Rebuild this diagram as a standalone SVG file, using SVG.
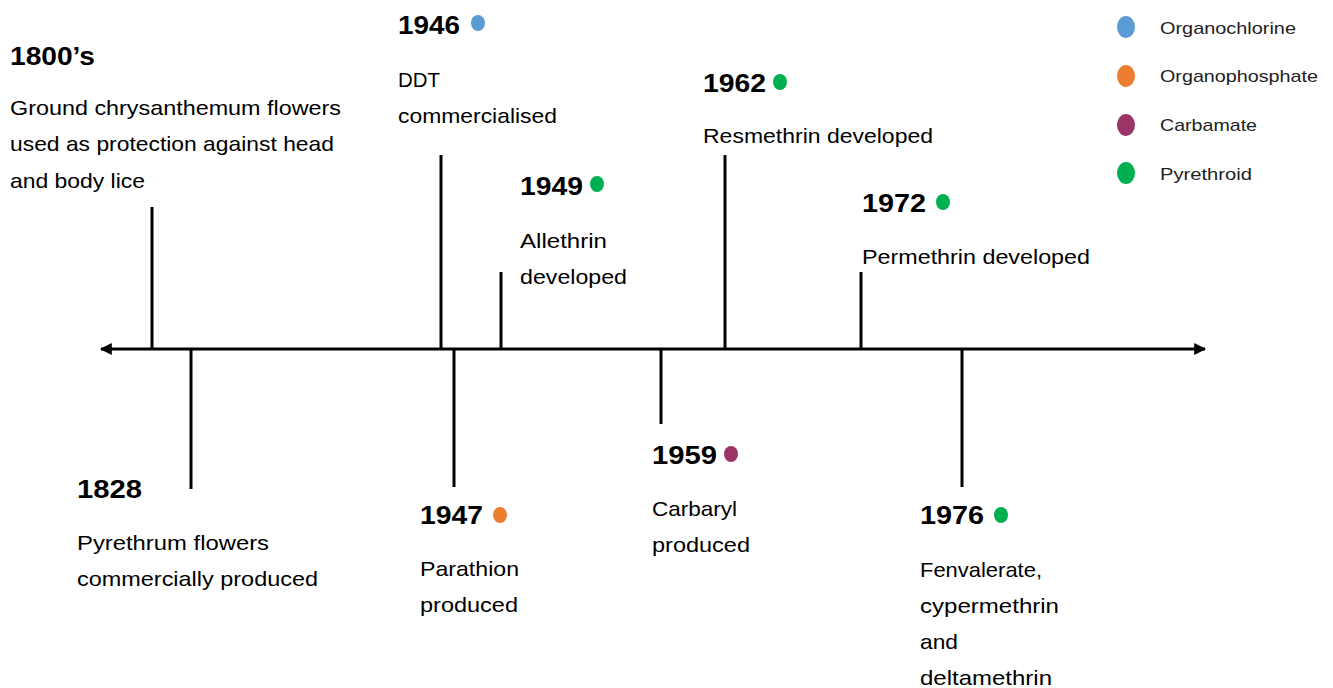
<svg xmlns="http://www.w3.org/2000/svg" width="1333" height="688" viewBox="0 0 1333 688">
<defs>
<marker id="ah" viewBox="0 0 10 10" refX="9" refY="5" markerWidth="4" markerHeight="4" orient="auto-start-reverse" markerUnits="strokeWidth">
<path d="M0,0 L10,5 L0,10 z" fill="#000"/>
</marker>
<style>
text{font-family:"Liberation Sans",Arial,sans-serif}
.yr{font-weight:bold;font-size:26px;fill:#000}
.tx{font-size:21px;fill:#000}
.lg{font-size:17px;fill:#222}
.tick{stroke:#000;stroke-width:3;fill:none}
.blue{fill:#5B9BD5}.orange{fill:#ED7D31}.purple{fill:#9B3568}.green{fill:#00B050}
</style>
</defs>
<rect width="1333" height="688" fill="#fff"/>
<g id="connectors">
<line x1="101" y1="349" x2="1205" y2="349" class="tick" marker-start="url(#ah)" marker-end="url(#ah)"/>
<line class="tick" x1="152" y1="207" x2="152" y2="349"/>
<line class="tick" x1="191" y1="349" x2="191" y2="489"/>
<line class="tick" x1="441" y1="155" x2="441" y2="349"/>
<line class="tick" x1="454" y1="349" x2="454" y2="487"/>
<line class="tick" x1="501" y1="272" x2="501" y2="349"/>
<line class="tick" x1="661" y1="349" x2="661" y2="424"/>
<line class="tick" x1="725" y1="155" x2="725" y2="349"/>
<line class="tick" x1="861" y1="272" x2="861" y2="349"/>
<line class="tick" x1="962" y1="349" x2="962" y2="487"/>
</g>
<g id="e1800">
<text class="yr" x="10" y="65" textLength="85" lengthAdjust="spacingAndGlyphs">1800’s</text>
<text class="tx" x="10" y="115" textLength="331" lengthAdjust="spacingAndGlyphs">Ground chrysanthemum flowers</text>
<text class="tx" x="10" y="151" textLength="324" lengthAdjust="spacingAndGlyphs">used as protection against head</text>
<text class="tx" x="10" y="188" textLength="135" lengthAdjust="spacingAndGlyphs">and body lice</text>
</g>
<g id="e1828">
<text class="yr" x="77" y="498" textLength="65" lengthAdjust="spacingAndGlyphs">1828</text>
<text class="tx" x="77" y="550" textLength="192" lengthAdjust="spacingAndGlyphs">Pyrethrum flowers</text>
<text class="tx" x="77" y="586" textLength="241" lengthAdjust="spacingAndGlyphs">commercially produced</text>
</g>
<g id="e1946">
<text class="yr" x="398" y="34" textLength="62" lengthAdjust="spacingAndGlyphs">1946</text>
<ellipse class="blue" cx="478" cy="23" rx="7" ry="8"/>
<text class="tx" x="398" y="87" textLength="42" lengthAdjust="spacingAndGlyphs">DDT</text>
<text class="tx" x="398" y="123" textLength="159" lengthAdjust="spacingAndGlyphs">commercialised</text>
</g>
<g id="e1947">
<text class="yr" x="420" y="524" textLength="63" lengthAdjust="spacingAndGlyphs">1947</text>
<ellipse class="orange" cx="500" cy="515" rx="7" ry="8"/>
<text class="tx" x="420" y="576" textLength="99" lengthAdjust="spacingAndGlyphs">Parathion</text>
<text class="tx" x="420" y="612" textLength="98" lengthAdjust="spacingAndGlyphs">produced</text>
</g>
<g id="e1949">
<text class="yr" x="520" y="195" textLength="63" lengthAdjust="spacingAndGlyphs">1949</text>
<ellipse class="green" cx="597" cy="184" rx="7" ry="8"/>
<text class="tx" x="520" y="248" textLength="87" lengthAdjust="spacingAndGlyphs">Allethrin</text>
<text class="tx" x="520" y="284" textLength="107" lengthAdjust="spacingAndGlyphs">developed</text>
</g>
<g id="e1959">
<text class="yr" x="652" y="464" textLength="65" lengthAdjust="spacingAndGlyphs">1959</text>
<ellipse class="purple" cx="731" cy="454" rx="7" ry="8"/>
<text class="tx" x="652" y="516" textLength="85" lengthAdjust="spacingAndGlyphs">Carbaryl</text>
<text class="tx" x="652" y="552" textLength="98" lengthAdjust="spacingAndGlyphs">produced</text>
</g>
<g id="e1962">
<text class="yr" x="703" y="92" textLength="63" lengthAdjust="spacingAndGlyphs">1962</text>
<ellipse class="green" cx="780" cy="82" rx="7" ry="8"/>
<text class="tx" x="703" y="143" textLength="230" lengthAdjust="spacingAndGlyphs">Resmethrin developed</text>
</g>
<g id="e1972">
<text class="yr" x="862" y="212" textLength="64" lengthAdjust="spacingAndGlyphs">1972</text>
<ellipse class="green" cx="943" cy="202" rx="7" ry="8"/>
<text class="tx" x="862" y="264" textLength="228" lengthAdjust="spacingAndGlyphs">Permethrin developed</text>
</g>
<g id="e1976">
<text class="yr" x="920" y="524" textLength="64" lengthAdjust="spacingAndGlyphs">1976</text>
<ellipse class="green" cx="1001" cy="515" rx="7" ry="8"/>
<text class="tx" x="920" y="577" textLength="122" lengthAdjust="spacingAndGlyphs">Fenvalerate,</text>
<text class="tx" x="920" y="613" textLength="139" lengthAdjust="spacingAndGlyphs">cypermethrin</text>
<text class="tx" x="920" y="649" textLength="38" lengthAdjust="spacingAndGlyphs">and</text>
<text class="tx" x="920" y="685" textLength="132" lengthAdjust="spacingAndGlyphs">deltamethrin</text>
</g>
<g id="legend">
<ellipse class="blue" cx="1126" cy="27" rx="9" ry="11"/>
<text class="lg" x="1160" y="34" textLength="136" lengthAdjust="spacingAndGlyphs">Organochlorine</text>
<ellipse class="orange" cx="1126" cy="76" rx="9" ry="11"/>
<text class="lg" x="1160" y="82" textLength="158" lengthAdjust="spacingAndGlyphs">Organophosphate</text>
<ellipse class="purple" cx="1126" cy="125" rx="9" ry="11"/>
<text class="lg" x="1160" y="131" textLength="97" lengthAdjust="spacingAndGlyphs">Carbamate</text>
<ellipse class="green" cx="1126" cy="173" rx="9" ry="11"/>
<text class="lg" x="1160" y="180" textLength="92" lengthAdjust="spacingAndGlyphs">Pyrethroid</text>
</g>
</svg>
